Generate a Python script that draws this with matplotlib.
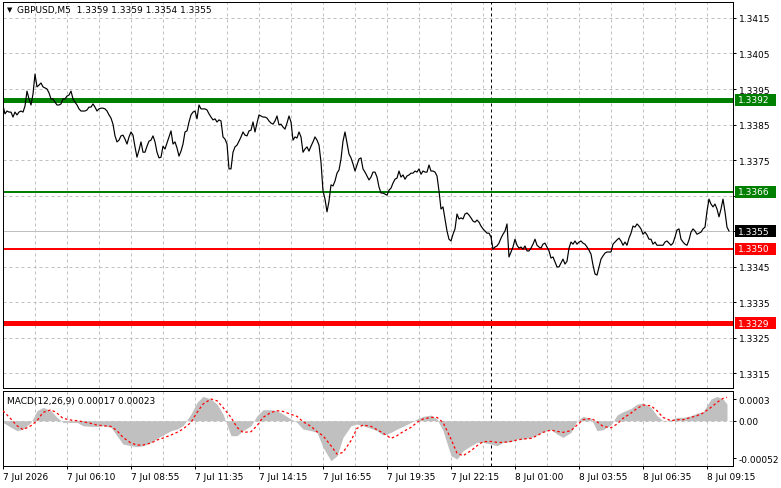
import numpy as np
import matplotlib
matplotlib.use("Agg")
import matplotlib.pyplot as plt
from matplotlib.patches import Rectangle
import matplotlib.transforms as mtransforms

plt.rcParams['font.family'] = ['DejaVu Sans']

# ---------------- data ----------------
title_text = "GBPUSD,M5  1.3359 1.3359 1.3354 1.3355"
macd_text = "MACD(12,26,9) 0.00017 0.00023"

close = [
    1.33903, 1.33880, 1.33888, 1.33885, 1.33885, 1.33871, 1.33885, 1.33877, 1.33885, 1.33888,
    1.33885, 1.33902, 1.33944, 1.33922, 1.33905, 1.33936, 1.33992, 1.33956, 1.33961, 1.33967,
    1.33956, 1.33953, 1.33950, 1.33939, 1.33922, 1.33922, 1.33913, 1.33905, 1.33905, 1.33908,
    1.33922, 1.33922, 1.33930, 1.33933, 1.33944, 1.33922, 1.33913, 1.33905, 1.33894, 1.33888,
    1.33888, 1.33888, 1.33891, 1.33899, 1.33899, 1.33908, 1.33899, 1.33888, 1.33894, 1.33896,
    1.33896, 1.33894, 1.33888, 1.33877, 1.33868, 1.33851, 1.33818, 1.33801, 1.33806, 1.33818,
    1.33820, 1.33809, 1.33795, 1.33815, 1.33829, 1.33820, 1.33787, 1.33758, 1.33778, 1.33801,
    1.33772, 1.33772, 1.33789, 1.33803, 1.33806, 1.33818, 1.33801, 1.33772, 1.33756, 1.33758,
    1.33789, 1.33781, 1.33798, 1.33815, 1.33832, 1.33795, 1.33801, 1.33784, 1.33761, 1.33775,
    1.33795, 1.33829, 1.33832, 1.33857, 1.33877, 1.33885, 1.33888, 1.33866, 1.33905, 1.33894,
    1.33894, 1.33894, 1.33891, 1.33880, 1.33871, 1.33863, 1.33866, 1.33857, 1.33863, 1.33860,
    1.33815, 1.33809, 1.33795, 1.33725, 1.33725, 1.33772, 1.33787, 1.33792, 1.33803, 1.33815,
    1.33829, 1.33820, 1.33818, 1.33832, 1.33834, 1.33857, 1.33829, 1.33854, 1.33877, 1.33874,
    1.33871, 1.33871, 1.33868, 1.33860, 1.33854, 1.33851, 1.33860, 1.33874, 1.33849, 1.33851,
    1.33843, 1.33837, 1.33854, 1.33874, 1.33857, 1.33806, 1.33815, 1.33812, 1.33829, 1.33815,
    1.33772, 1.33781, 1.33787, 1.33775, 1.33789, 1.33801, 1.33815, 1.33806, 1.33792, 1.33744,
    1.33663, 1.33640, 1.33604, 1.33634, 1.33680, 1.33677, 1.33691, 1.33713, 1.33722, 1.33753,
    1.33803, 1.33829, 1.33798, 1.33767, 1.33756, 1.33739, 1.33719, 1.33736, 1.33753, 1.33756,
    1.33725, 1.33716, 1.33705, 1.33694, 1.33702, 1.33716, 1.33716, 1.33702, 1.33674, 1.33657,
    1.33657, 1.33654, 1.33651, 1.33665, 1.33671, 1.33685, 1.33696, 1.33699, 1.33719, 1.33702,
    1.33708, 1.33696, 1.33705, 1.33708, 1.33713, 1.33713, 1.33719, 1.33716, 1.33725, 1.33710,
    1.33719, 1.33716, 1.33716, 1.33736, 1.33719, 1.33719, 1.33716, 1.33705, 1.33663, 1.33612,
    1.33618, 1.33584, 1.33550, 1.33527, 1.33522, 1.33541, 1.33556, 1.33598, 1.33584, 1.33587,
    1.33584, 1.33598, 1.33601, 1.33595, 1.33587, 1.33578, 1.33575, 1.33581, 1.33575, 1.33564,
    1.33556, 1.33550, 1.33544, 1.33544, 1.33533, 1.33499, 1.33505, 1.33508, 1.33516, 1.33530,
    1.33541, 1.33550, 1.33570, 1.33477, 1.33491, 1.33505, 1.33527, 1.33510, 1.33502, 1.33505,
    1.33499, 1.33508, 1.33494, 1.33494, 1.33502, 1.33513, 1.33527, 1.33510, 1.33505, 1.33502,
    1.33513, 1.33516, 1.33505, 1.33494, 1.33474, 1.33477, 1.33463, 1.33449, 1.33449, 1.33460,
    1.33471, 1.33457, 1.33465, 1.33502, 1.33519, 1.33513, 1.33522, 1.33513, 1.33519, 1.33522,
    1.33516, 1.33513, 1.33505, 1.33496, 1.33485, 1.33454, 1.33429, 1.33426, 1.33449, 1.33471,
    1.33480, 1.33488, 1.33491, 1.33491, 1.33491, 1.33513, 1.33519, 1.33525, 1.33530, 1.33522,
    1.33510, 1.33519, 1.33510, 1.33530, 1.33544, 1.33564, 1.33561, 1.33570, 1.33564, 1.33556,
    1.33541, 1.33547, 1.33539, 1.33527, 1.33527, 1.33513, 1.33519, 1.33510, 1.33510, 1.33510,
    1.33510, 1.33519, 1.33522, 1.33516, 1.33510, 1.33516, 1.33533, 1.33553, 1.33556, 1.33527,
    1.33519, 1.33513, 1.33510, 1.33525, 1.33547, 1.33556, 1.33550, 1.33541, 1.33544, 1.33547,
    1.33556, 1.33561, 1.33606, 1.33640, 1.33626, 1.33618, 1.33626, 1.33612, 1.33590, 1.33612,
    1.33640, 1.33604, 1.33561, 1.33550,
]

time_labels = ['7 Jul 2026', '7 Jul 06:10', '7 Jul 08:55', '7 Jul 11:35', '7 Jul 14:15',
               '7 Jul 16:55', '7 Jul 19:35', '7 Jul 22:15', '8 Jul 01:00', '8 Jul 03:55',
               '8 Jul 06:35', '8 Jul 09:15']
time_label_bars = [0, 32, 64, 96, 128, 160, 192, 224, 256, 288, 320, 352]
grid_bars = list(range(16, 365, 16))
day_separator_bar = 244

price_ticks = [1.3415, 1.3405, 1.3395, 1.3385, 1.3375, 1.3365, 1.3355, 1.3345, 1.3335, 1.3325, 1.3315]
price_tick_labels = ['1.3415', '1.3405', '1.3395', '1.3385', '1.3375', '', '', '1.3345', '1.3335', '1.3325', '1.3315']

level_prices = [1.3392, 1.3366, 1.3350, 1.3329]
level_labels = ['1.3392', '1.3366', '1.3350', '1.3329']
level_colors = ['#008000', '#008000', '#ff0000', '#ff0000']
level_widths = [3.6, 1.44, 1.44, 3.6]
bid_price = 1.3355
bid_label = '1.3355'

macd_bar = [0, 4, 7, 10, 14, 17, 20, 24, 27, 30, 34, 37, 40, 44, 47, 50, 54, 57, 60, 64,
            67, 70, 74, 77, 80, 84, 87, 90, 94, 97, 100, 104, 107, 110, 114, 117, 120, 124, 127, 130,
            134, 137, 140, 144, 147, 150, 154, 157, 160, 164, 167, 170, 174, 177, 180, 184, 187, 190,
            194, 197, 200, 204, 207, 210, 214, 217, 220, 224, 227, 230, 234, 237, 240, 244, 247, 250,
            254, 257, 260, 264, 267, 270, 274, 277, 280, 284, 287, 290, 294, 297, 300, 304, 307, 310,
            314, 317, 320, 324, 327, 330, 334, 337, 340, 344, 347, 350, 354, 357, 360, 362]
macd_hist = [-2.3e-5, -9.2e-5, -13.8e-5, -11.5e-5, -2.3e-5, 13.8e-5, 18.4e-5, 13.8e-5, 4.6e-5, -2.3e-5,
             -2.3e-5, -2.3e-5, -6.9e-5, -7.8e-5, -7.8e-5, -6.9e-5, -9.2e-5, -20.7e-5, -32.3e-5, -34.6e-5,
             -35.9e-5, -34.6e-5, -30.0e-5, -24.4e-5, -19.8e-5, -13.8e-5, -11.5e-5, -6.9e-5, 9.2e-5, 25.3e-5,
             33.6e-5, 30.0e-5, 23.0e-5, 9.2e-5, -20.7e-5, -20.7e-5, -13.8e-5, -6.9e-5, 6.9e-5, 15.2e-5,
             15.2e-5, 13.8e-5, 9.2e-5, 2.3e-5, -2.3e-5, -11.5e-5, -13.8e-5, -16.1e-5, -36.9e-5, -55.3e-5,
             -48.4e-5, -23.0e-5, -6.9e-5, -4.6e-5, -6.9e-5, -10.6e-5, -13.8e-5, -19.8e-5,
             -16.1e-5, -11.5e-5, -7.8e-5, -2.3e-5, 2.3e-5, 6.0e-5, 7.8e-5, 2.3e-5, -13.8e-5, -48.4e-5,
             -53.0e-5, -41.5e-5, -34.6e-5, -30.0e-5, -30.0e-5, -32.3e-5, -34.6e-5, -30.0e-5, -29.0e-5, -25.3e-5,
             -25.3e-5, -23.0e-5, -19.8e-5, -15.2e-5, -12.4e-5, -18.4e-5, -23.0e-5, -16.1e-5, 0.0, 6.0e-5,
             3.2e-5, -13.8e-5, -12.4e-5, -6.0e-5, 7.8e-5, 12.4e-5, 17.0e-5, 23.0e-5, 24.4e-5, 18.4e-5,
             6.9e-5, 0.0, 1.4e-5, 4.6e-5, 4.6e-5, 6.9e-5, 10.6e-5, 12.4e-5, 30.0e-5, 33.6e-5,
             30.0e-5, 23.0e-5]
macd_signal = [13.8e-5, 2.3e-5, -6.9e-5, -12.4e-5, -6.9e-5, 0.0, 11.5e-5, 15.2e-5, 10.6e-5, 3.2e-5,
               0.9e-5, 0.0, -1.4e-5, -3.7e-5, -6.0e-5, -6.9e-5, -7.8e-5, -13.8e-5, -23.0e-5, -30.9e-5,
               -33.6e-5, -33.6e-5, -30.9e-5, -26.7e-5, -24.0e-5, -19.8e-5, -16.1e-5, -11.5e-5, -2.3e-5, 11.5e-5,
               23.0e-5, 30.0e-5, 27.6e-5, 18.4e-5, 4.6e-5, -9.2e-5, -16.1e-5, -15.2e-5, -6.9e-5, 4.6e-5,
               11.5e-5, 13.8e-5, 12.9e-5, 8.8e-5, 6.0e-5, -1.4e-5, -7.8e-5, -15.2e-5, -20.7e-5, -34.6e-5,
               -46.1e-5, -43.8e-5, -27.6e-5, -10.6e-5, -6.0e-5, -7.8e-5, -12.4e-5, -17.0e-5,
               -24.4e-5, -20.7e-5, -15.2e-5, -9.2e-5, -2.3e-5, 2.3e-5, 4.6e-5, 4.6e-5, -2.3e-5, -25.3e-5,
               -44.7e-5, -48.4e-5, -41.5e-5, -34.6e-5, -29.0e-5, -28.6e-5, -30.0e-5, -30.0e-5, -28.6e-5, -26.7e-5,
               -25.3e-5, -24.4e-5, -20.7e-5, -16.1e-5, -12.9e-5, -14.7e-5, -16.1e-5, -13.8e-5, -6.0e-5, 1.4e-5,
               3.2e-5, -1.4e-5, -7.8e-5, -9.7e-5, -4.6e-5, 3.2e-5, 10.6e-5, 17.0e-5, 21.7e-5, 20.7e-5,
               13.8e-5, 4.6e-5, 0.0, 1.4e-5, 1.4e-5, 4.6e-5, 6.9e-5, 10.6e-5, 18.4e-5, 25.3e-5,
               30.9e-5, 32.3e-5]
macd_ticks = [0.0003, 0.0, -0.00052]
macd_tick_labels = ['0.0003', '0.00', '-0.00052']

# ---------------- styling ----------------
W, H = 781, 489
PX = 0.72  # points per pixel
FS = 6.5
GRID = '#c0c0c0'
bars = np.arange(len(close))

fig = plt.figure(figsize=(W / 100, H / 100), dpi=100)
fig.patch.set_facecolor('white')
ax = fig.add_axes([3 / W, 1 - 389 / H, 730 / W, 386 / H])
ax2 = fig.add_axes([3 / W, 1 - 467 / H, 730 / W, 75 / H])

for a in (ax, ax2):
    a.set_xlim(0, 365)
    for s in a.spines.values():
        s.set_color('black')
        s.set_linewidth(PX)
    for gb in grid_bars:
        a.axvline(gb, color=GRID, lw=PX, ls=(0, (3, 3)), zorder=0)
    a.axvline(day_separator_bar, color='black', lw=PX, ls=(0, (3, 3)), zorder=1)
    a.yaxis.tick_right()
    a.tick_params(axis='y', direction='out', length=3 * PX, width=PX, pad=2, labelsize=FS, colors='black')

# main panel
ax.set_ylim(1.33108, 1.34195)
for p in price_ticks:
    ax.axhline(p, color=GRID, lw=PX, ls=(0, (3, 3)), zorder=0)
ax.set_yticks(price_ticks)
ax.set_yticklabels(price_tick_labels)
ax.set_xticks([])
ax.axhline(bid_price, color=GRID, lw=PX, zorder=1)
for p, c, w in zip(level_prices, level_colors, level_widths):
    ax.axhline(p, color=c, lw=w, zorder=2, solid_capstyle='butt')
ax.plot(bars, close, color='black', lw=0.85, zorder=3)

trans = mtransforms.blended_transform_factory(ax.transAxes, ax.transData)
box_h = (ax.get_ylim()[1] - ax.get_ylim()[0]) * 12 / 386
for p, lab, c in list(zip(level_prices, level_labels, level_colors)) + [(bid_price, bid_label, 'black')]:
    ax.add_patch(Rectangle((1 + 2 / 730, p - box_h / 2), 41 / 730, box_h, transform=trans,
                           facecolor=c, edgecolor='none', clip_on=False, zorder=5))
    ax.text(1 + 5 / 730, p, lab, transform=trans, color='white', fontsize=FS,
            va='center', ha='left', zorder=6, clip_on=False)

ax.text(4 / 730, 1 - 7 / 386, '\u25BC', transform=ax.transAxes, fontsize=5, va='center', ha='left')
ax.text(14 / 730, 1 - 7 / 386, title_text, transform=ax.transAxes, fontsize=FS, va='center', ha='left')

# MACD panel
ax2.set_ylim(-0.000626, 0.000411)
ax2.axhline(0, color=GRID, lw=PX, ls=(0, (3, 3)), zorder=0)
ax2.fill_between(macd_bar, 0, macd_hist, color='#c0c0c0', lw=0, zorder=2)
ax2.plot(macd_bar, macd_signal, color='#ff0000', lw=0.9, ls=(0, (2, 2)), zorder=3)
ax2.set_yticks(macd_ticks)
ax2.set_yticklabels(macd_tick_labels)
ax2.set_xticks(time_label_bars)
ax2.set_xticklabels(time_labels, ha='left')
ax2.tick_params(axis='x', direction='out', length=3 * PX, width=PX, pad=2, labelsize=FS, colors='black')
ax2.text(4 / 730, 1 - 10 / 75, macd_text, transform=ax2.transAxes, fontsize=FS, va='center', ha='left')

fig.savefig('out.png', dpi=100, facecolor='white')
